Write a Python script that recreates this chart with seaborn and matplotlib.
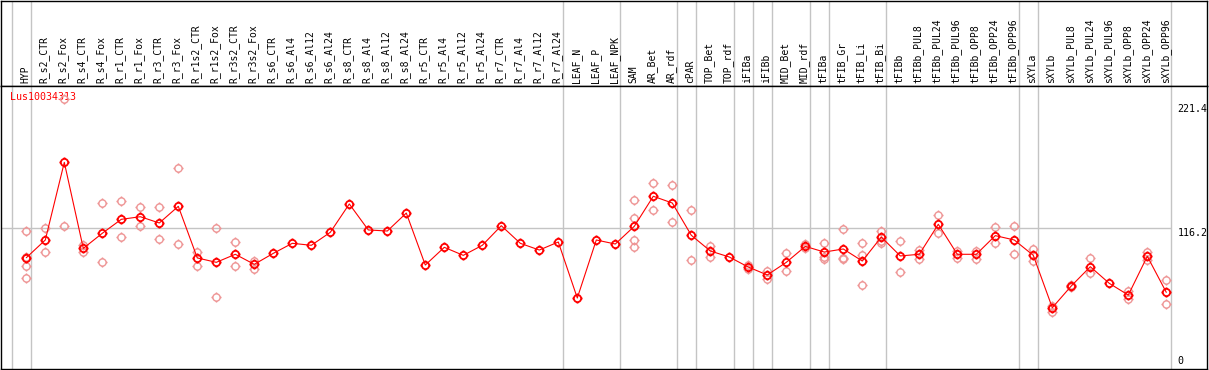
import numpy as np
import pandas as pd
import matplotlib
matplotlib.use("Agg")
import matplotlib.pyplot as plt
from matplotlib.path import Path
import seaborn as sns

# ─── data ────────────────────────────────────────────────────────────────────
categories = [
    "HYP", "R_s2_CTR", "R_s2_Fox", "R_s4_CTR", "R_s4_Fox", "R_r1_CTR", "R_r1_Fox",
    "R_r3_CTR", "R_r3_Fox", "R_r1s2_CTR", "R_r1s2_Fox", "R_r3s2_CTR", "R_r3s2_Fox",
    "R_s6_CTR", "R_s6_Al4", "R_s6_Al12", "R_s6_Al24", "R_s8_CTR", "R_s8_Al4",
    "R_s8_Al12", "R_s8_Al24", "R_r5_CTR", "R_r5_Al4", "R_r5_Al12", "R_r5_Al24",
    "R_r7_CTR", "R_r7_Al4", "R_r7_Al12", "R_r7_Al24", "LEAF_N", "LEAF_P", "LEAF_NPK",
    "SAM", "AR_Bet", "AR_rdf", "cPAR", "TOP_Bet", "TOP_rdf", "iFIBa", "iFIBb",
    "MID_Bet", "MID_rdf", "tFIBa", "tFIB_Gr", "tFIB_Li", "tFIB_Bi", "tFIBb",
    "tFIBb_PUL8", "tFIBb_PUL24", "tFIBb_PUL96", "tFIBb_OPP8", "tFIBb_OPP24",
    "tFIBb_OPP96", "sXYLa", "sXYLb", "sXYLb_PUL8", "sXYLb_PUL24", "sXYLb_PUL96",
    "sXYLb_OPP8", "sXYLb_OPP24", "sXYLb_OPP96",
]

mean_values = [
    91.3, 106.3, 172.0, 99.2, 112.0, 123.8, 126.0, 120.7, 134.8, 91.1, 87.4, 94.2,
    85.7, 95.0, 103.5, 101.8, 112.8, 136.8, 114.8, 113.9, 129.1, 85.1, 100.1, 93.3,
    101.8, 118.4, 103.5, 97.8, 104.6, 57.2, 106.3, 102.9, 117.9, 143.3, 137.6,
    110.3, 97.0, 91.9, 83.4, 76.7, 87.4, 100.9, 96.1, 98.7, 88.5, 108.8, 92.8,
    94.2, 119.6, 94.2, 94.2, 110.0, 106.3, 93.3, 49.0, 67.4, 83.7, 69.6, 59.7,
    92.5, 62.0,
]

replicates = [
    [113.9, 92.2, 84.0, 74.1], [116.2, 95.9], [117.9, 226.0], [102.1, 96.1],
    [137.6, 87.4], [139.3, 108.6], [134.2, 118.4], [134.0, 106.9], [167.2, 102.7],
    [96.4, 84.5], [116.7, 58.1], [104.6, 84.0], [88.8, 82.0],
    [], [], [], [], [], [], [], [], [], [], [], [], [], [], [], [], [], [], [],
    [139.9, 124.7, 106.3, 100.6], [154.3, 131.4], [152.8, 121.5], [131.7, 89.1],
    [101.5, 91.6], [], [84.9, 81.5], [80.3, 73.0],
    [95.3, 80.1], [102.6, 99.5], [103.8, 92.2, 90.2], [115.6, 91.1, 90.2],
    [103.8, 93.6, 68.2], [114.2, 105.2, 104.0], [105.2, 79.0],
    [97.8, 90.5], [127.5, 112.0], [97.2, 90.8], [97.2, 90.2], [117.0, 103.8],
    [117.9, 94.2], [98.9, 88.8], [50.7, 45.4], [68.5, 66.3], [90.8, 78.1], [],
    [63.4, 56.4], [96.4, 89.4], [72.4, 51.9],
]

# group boundaries (separator drawn after these category indices)
group_ends = [-1, 0, 28, 31, 34, 35, 37, 38, 39, 41, 42, 45, 52, 53, 60]

gene_id = "Lus10034313"
ref_value = 116.2
axis_labels = [221.4, 116.2, 0]

RED   = "#ff0000"
PINK  = "#ee9595"
GRID  = "#c4c4c4"
MONO  = "DejaVu Sans Mono"

# ─── marker: open circle with four small ticks ───────────────────────────────
def _tick_circle():
    circ = Path.unit_circle()
    ticks = []
    for dx, dy in [(1, 0), (-1, 0), (0, 1), (0, -1)]:
        ticks.append(Path([(dx, dy), (dx * 1.4, dy * 1.4)], [Path.MOVETO, Path.LINETO]))
    return Path.make_compound_path(circ, *ticks)

MARK = _tick_circle()

x_idx = np.arange(len(categories))
means_df = pd.DataFrame({"x": x_idx, "value": mean_values})
reps_df = pd.DataFrame(
    [(i, v) for i, vals in enumerate(replicates) for v in vals],
    columns=["x", "value"],
)

# ─── figure layout (pixel based) ─────────────────────────────────────────────
W, H = 1209, 370
sns.set_style("white")
fig = plt.figure(figsize=(W / 100, H / 100), dpi=100)
fig.patch.set_facecolor("white")

left_px, right_px = 1.0, 1207.3
header_top, header_bot, plot_bot = 0.5, 85.7, 369.0

ax_head = fig.add_axes([left_px / W, 1 - header_bot / H,
                        (right_px - left_px) / W, (header_bot - header_top) / H])
ax = fig.add_axes([left_px / W, 1 - plot_bot / H,
                   (right_px - left_px) / W, (plot_bot - header_bot) / H])

# pixel -> data mapping: category i sits at 26.3 + 19*i px
x0_px, step_px = 26.3, 19.0
xlim = ((left_px - x0_px) / step_px, (right_px - x0_px) / step_px)
y0_px, px_per_unit = 365.6, 1.1816
ylim = ((y0_px - plot_bot) / px_per_unit, (y0_px - header_bot) / px_per_unit)

for a in (ax, ax_head):
    a.set_xlim(*xlim)
    a.set_xticks([])
    a.set_yticks([])
    for s in a.spines.values():
        s.set_edgecolor("black")
        s.set_linewidth(1.0)
    for g in group_ends:
        a.axvline(g + 0.23, color=GRID, linewidth=1.0, zorder=0)
ax.set_ylim(*ylim)
ax_head.set_ylim(0, 1)

# reference line
ax.hlines(ref_value, xlim[0], group_ends[-1] + 0.23, color=GRID, linewidth=1.0, zorder=0)

# replicates (markers only) + mean profile
sns.lineplot(data=reps_df, x="x", y="value", ax=ax, estimator=None, sort=False,
             linestyle="none", marker=MARK, markersize=7.3,
             markerfacecolor="none", markeredgecolor=PINK, markeredgewidth=1.0,
             zorder=2, legend=False)
sns.lineplot(data=means_df, x="x", y="value", ax=ax, estimator=None, sort=False,
             color=RED, linewidth=0.8, marker=MARK, markersize=7.3,
             markerfacecolor="none", markeredgecolor=RED, markeredgewidth=1.3,
             zorder=3, legend=False)
ax.set_xlabel("")
ax.set_ylabel("")
ax.set_xlim(*xlim)
ax.set_ylim(*ylim)

# category labels in header
for i, name in enumerate(categories):
    ax_head.text(i - 0.05, 0.03, name, rotation=90, ha="center", va="bottom",
                 fontsize=7, family=MONO, color="black")

# gene id
ax.text(0.0072, 0.977, gene_id, transform=ax.transAxes, ha="left", va="top",
        fontsize=7.2, family=MONO, color=RED, zorder=1)

# right-hand value labels
lab_x = (1177.5 - x0_px) / step_px
for v in axis_labels:
    ax.text(lab_x, v, f"{v:g}", ha="left", va="top" if v > 0 else "bottom",
            fontsize=7.2, family=MONO, color="black", clip_on=True)

fig.savefig("out.png", dpi=100, facecolor="white")
